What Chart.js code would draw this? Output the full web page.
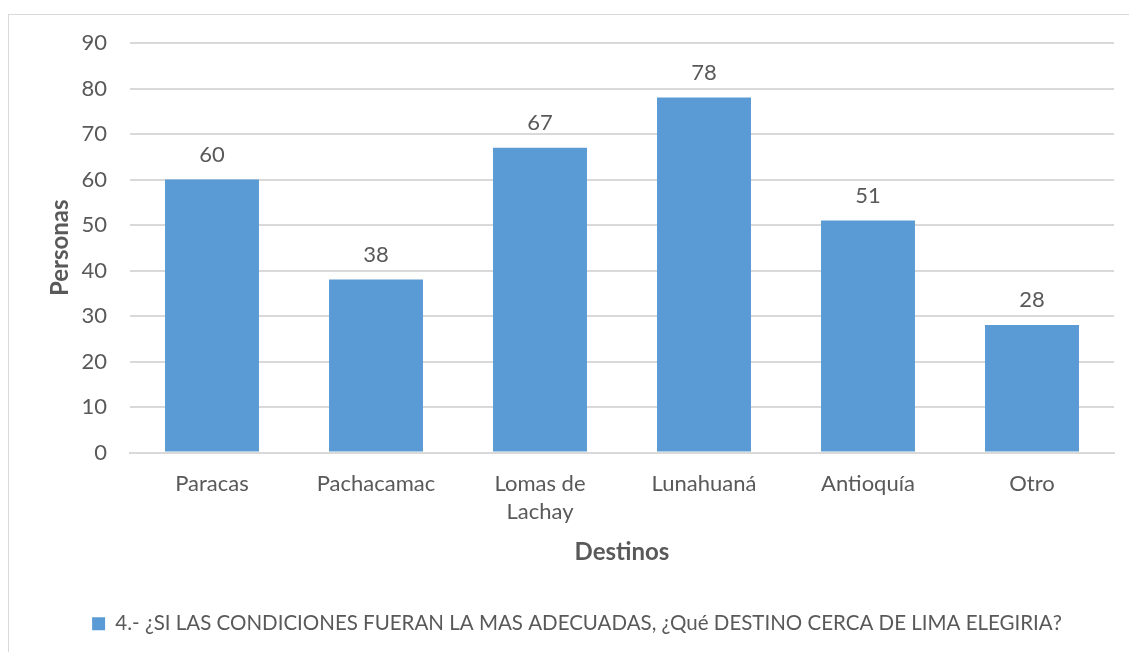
<!DOCTYPE html>
<html>
<head>
<meta charset="utf-8">
<script src="https://cdn.jsdelivr.net/npm/chart.js@4"></script>
<style>
    html, body { margin: 0; padding: 0; background: #fff; overflow: hidden; }
    #frame { position: absolute; left: 8px; top: 14px; width: 1125px; height: 700px; border: 1px solid #d9d9d9; }
    #wrap { position: absolute; left: 0; top: 0; width: 1129px; height: 652px; }
</style>
</head>
<body>
<div id="frame"></div>
<div id="wrap"><canvas id="chartCanvas"></canvas></div>
<script>
// Datos del grafico
const destinos = ["Paracas", "Pachacamac", ["Lomas de", "Lachay"], "Lunahuaná", "Antioquía", "Otro"];
const personas = [60, 38, 67, 78, 51, 28];
const serieNombre = "4.- ¿SI LAS CONDICIONES FUERAN LA MAS ADECUADAS, ¿Qué DESTINO CERCA DE LIMA ELEGIRIA?";
const yMin = 0, yMax = 90, yStep = 10;

const textColor = "#595959";
const fontFamily = "Lato, 'Open Sans', sans-serif";

// Etiquetas de valor encima de cada barra
const valueLabels = {
    id: "valueLabels",
    afterDatasetsDraw(chart) {
        const ctx = chart.ctx;
        const meta = chart.getDatasetMeta(0);
        ctx.save();
        ctx.font = "22px " + fontFamily;
        ctx.fillStyle = textColor;
        ctx.textAlign = "center";
        ctx.textBaseline = "middle";
        meta.data.forEach((bar, i) => {
            ctx.fillText(String(personas[i]), bar.x, bar.y - 25);
        });
        ctx.restore();
    }
};

const chartCanvas = document.getElementById("chartCanvas");

new Chart(chartCanvas, {
    type: "bar",
    data: {
        labels: destinos,
        datasets: [{
            label: serieNombre,
            data: personas,
            backgroundColor: "#5b9bd5",
            borderWidth: 0,
            categoryPercentage: 1,
            barPercentage: 0.573
        }]
    },
    options: {
        responsive: true,
        maintainAspectRatio: false,
        animation: false,
        layout: { padding: { left: 40, top: 43, right: 15, bottom: 8 } },
        plugins: {
            legend: {
                position: "bottom",
                labels: {
                    color: textColor,
                    font: { family: fontFamily, size: 20.5 },
                    boxWidth: 13,
                    boxHeight: 13,
                    padding: 10
                }
            },
            tooltip: { enabled: false }
        },
        scales: {
            x: {
                grid: { display: false, drawTicks: false },
                border: { display: true, color: "#d9d9d9", width: 2 },
                ticks: {
                    color: textColor,
                    font: { family: fontFamily, size: 22, lineHeight: 1.27 },
                    padding: 17,
                    maxRotation: 0
                },
                title: {
                    display: true,
                    text: "Destinos",
                    color: textColor,
                    font: { family: fontFamily, size: 24, weight: "bold" },
                    padding: { top: 12, bottom: 37 }
                },
                afterFit(scale) { scale.height = 151; }
            },
            y: {
                min: yMin,
                max: yMax,
                grid: { color: "#d9d9d9", lineWidth: 2, drawTicks: false },
                border: { display: false },
                ticks: {
                    stepSize: yStep,
                    color: textColor,
                    font: { family: fontFamily, size: 22 },
                    padding: 23
                },
                title: {
                    display: true,
                    text: "Personas",
                    color: textColor,
                    font: { family: fontFamily, size: 24, weight: "bold" },
                    padding: { top: 6, bottom: 0 }
                },
                afterFit(scale) { scale.width = 90; }
            }
        }
    },
    plugins: [valueLabels]
});
</script>
</body>
</html>
